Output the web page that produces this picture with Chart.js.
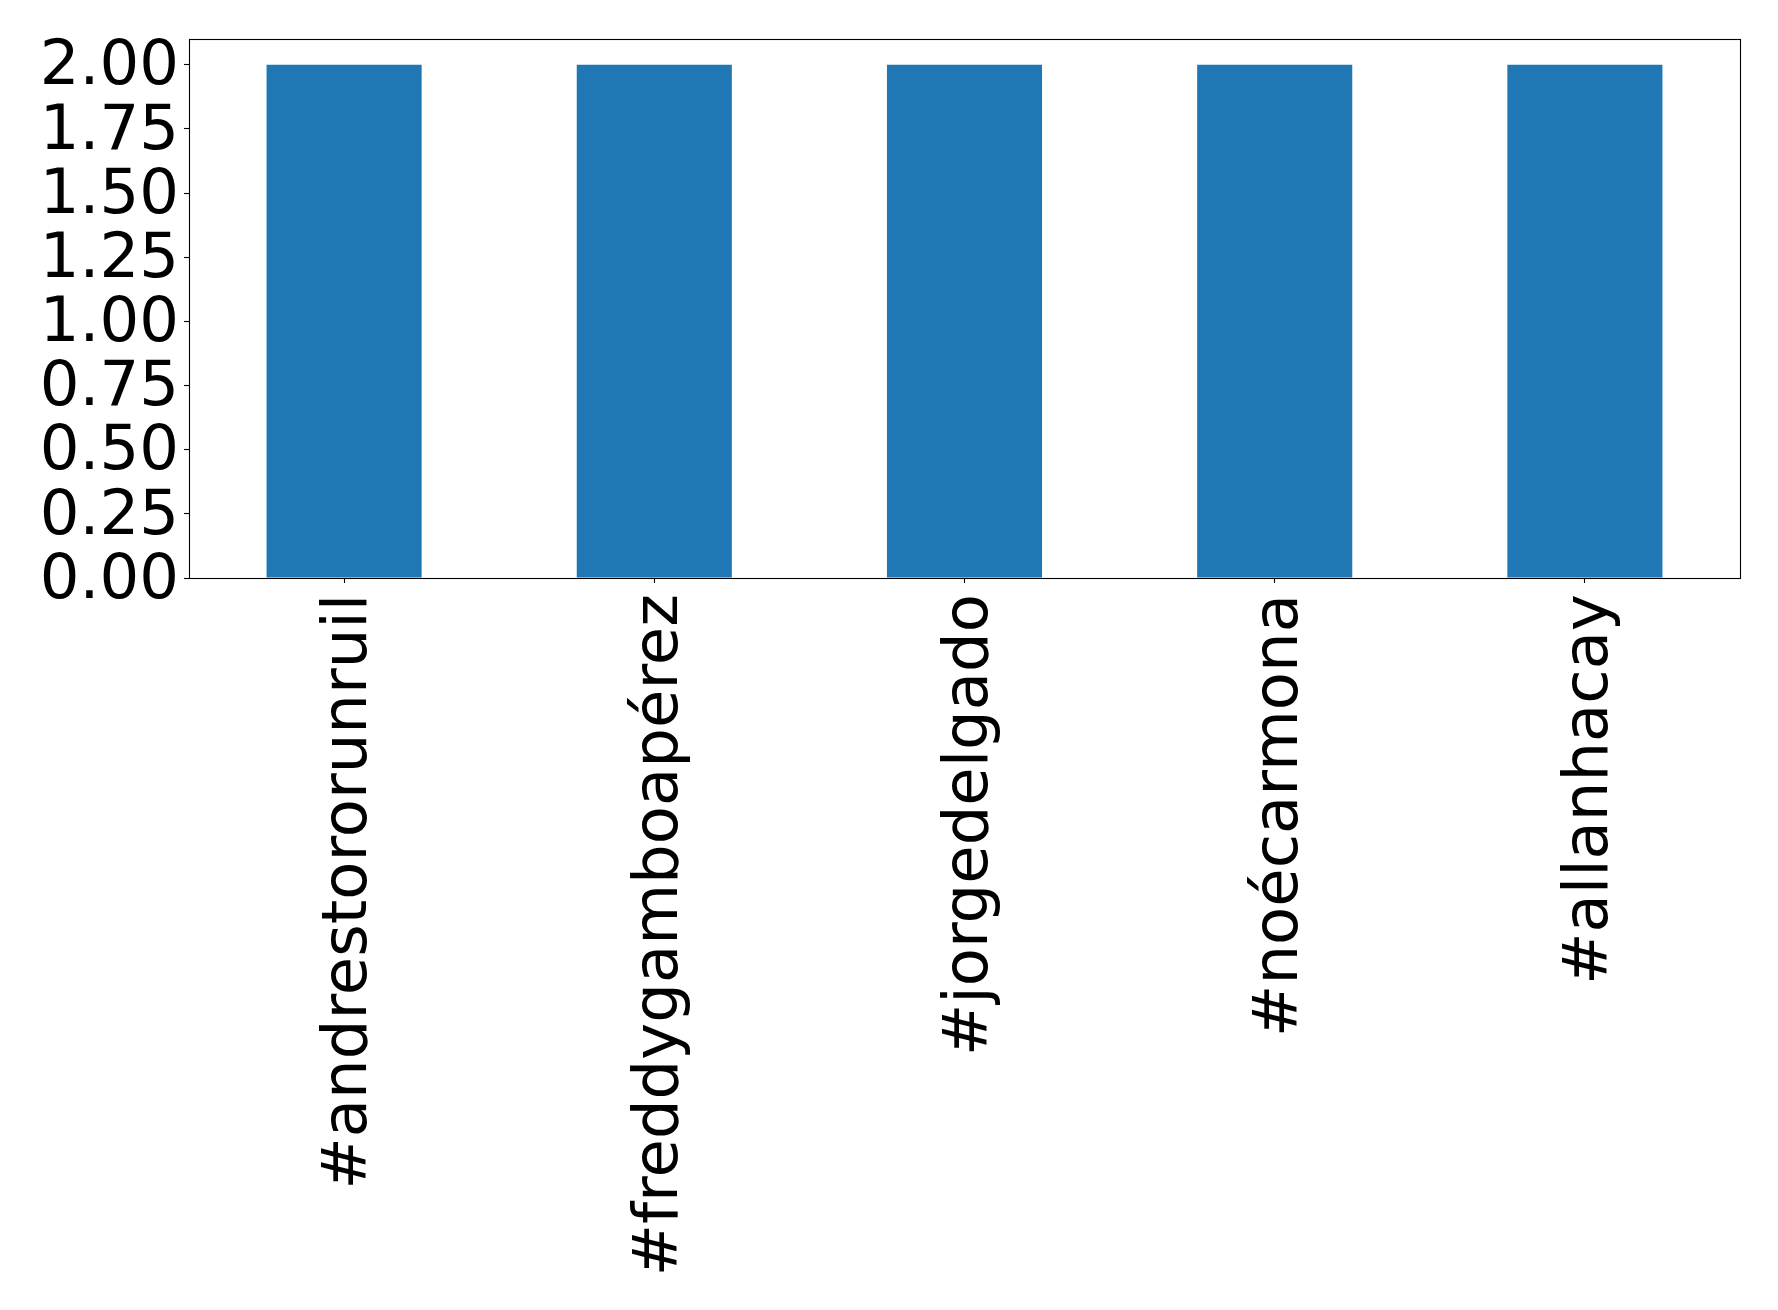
<!DOCTYPE html>
<html>
<head>
<meta charset="utf-8">
<script src="https://cdn.jsdelivr.net/npm/chart.js@4.4.1/dist/chart.umd.min.js"></script>
<style>
html,body{margin:0;padding:0;background:#fff;}
canvas{display:block;}
</style>
</head>
<body>
<canvas id="c" width="1778" height="1310"></canvas>
<script>
const categories = ["#andrestororunruil", "#freddygamboapérez", "#jorgedelgado", "#noécarmona", "#allanhacay"];
const counts = [2, 2, 2, 2, 2];
const yTicks = [0, 0.25, 0.5, 0.75, 1.0, 1.25, 1.5, 1.75, 2.0];

const FONT = "'DejaVu Sans', sans-serif";

const framePlugin = {
  id: 'frame',
  afterDatasetsDraw(chart) {
    const a = chart.chartArea;
    const ctx = chart.ctx;
    ctx.save();
    ctx.strokeStyle = '#000';
    ctx.lineWidth = 1.1;
    ctx.strokeRect(Math.round(a.left) + 0.5, Math.round(a.top) + 0.5,
                   Math.round(a.right - a.left), Math.round(a.bottom - a.top));
    ctx.restore();
  }
};

new Chart(document.getElementById('c'), {
  type: 'bar',
  data: {
    datasets: [{
      data: counts.map((v, i) => ({x: i, y: v})),
      backgroundColor: '#1f77b4',
      borderWidth: 0,
      barPercentage: 0.5,
      categoryPercentage: 1.0
    }]
  },
  options: {
    responsive: false,
    animation: false,
    events: [],
    layout: { padding: { left: 0, top: 39, right: 38, bottom: 0 } },
    plugins: { legend: { display: false }, tooltip: { enabled: false } },
    scales: {
      x: {
        type: 'linear',
        offset: false,
        min: -0.5,
        max: 4.5,
        afterBuildTicks(scale) { scale.ticks = categories.map((_, i) => ({ value: i })); },
        afterFit(scale) {
          scale.height = 1310 - 578;
          scale.paddingLeft = 0; scale.paddingRight = 0;
        },
        border: { display: false },
        grid: { display: true, offset: false, drawOnChartArea: false, tickLength: 5, tickColor: '#000', tickWidth: 1.1 },
        ticks: {
          autoSkip: false,
          minRotation: 90,
          maxRotation: 90,
          padding: 11,
          labelOffset: 6,
          color: '#000',
          font: { family: FONT, size: 62.5 },
          callback: (v) => categories[Math.round(v)] ?? ''
        }
      },
      y: {
        min: 0,
        max: 2.1,
        afterBuildTicks(scale) { scale.ticks = yTicks.map(v => ({ value: v })); },
        afterFit(scale) {
          scale.width = 189;
          scale.paddingTop = 0; scale.paddingBottom = 0;
        },
        border: { display: false },
        grid: { display: true, drawOnChartArea: false, tickLength: 5, tickColor: '#000', tickWidth: 1.1 },
        ticks: {
          autoSkip: false,
          padding: 5,
          labelOffset: 3.5,
          color: '#000',
          font: { family: FONT, size: 62.5 },
          callback: (v) => Number(v).toFixed(2)
        }
      }
    }
  },
  plugins: [framePlugin]
});
</script>
</body>
</html>
